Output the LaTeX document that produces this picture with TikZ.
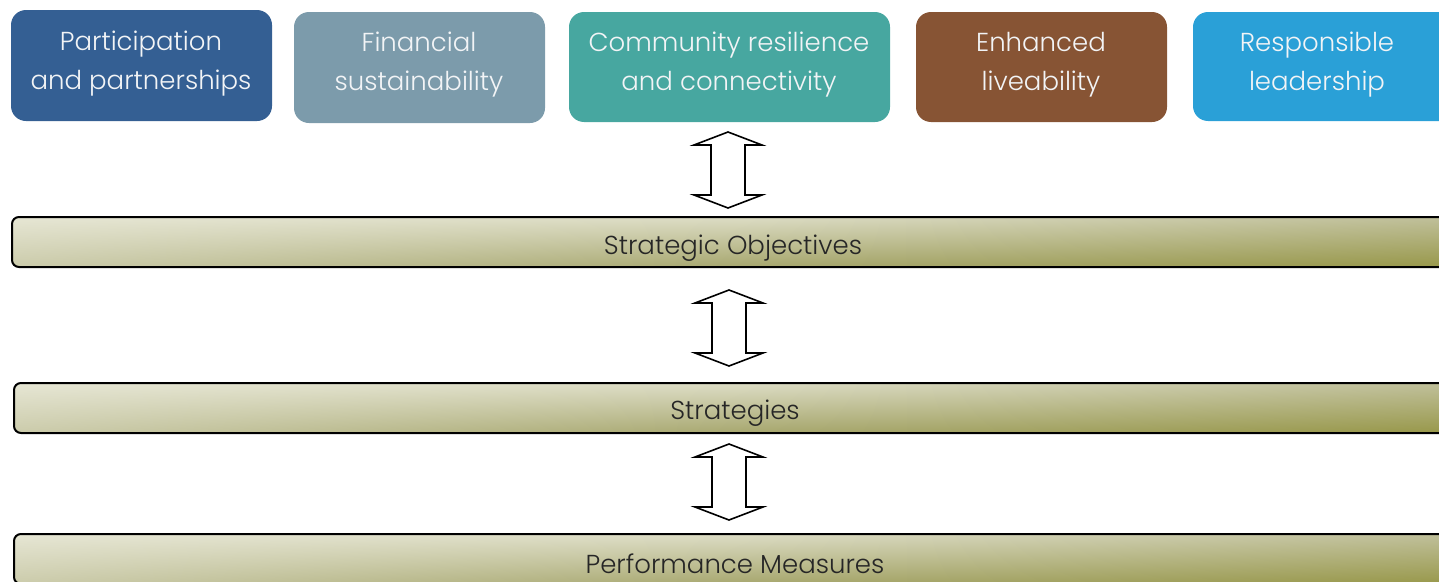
\documentclass[tikz,border=0pt]{standalone}
\usepackage{fontspec}
\setmainfont{Poppins}[UprightFont=* Light]
\definecolor{cA}{HTML}{345F93}
\definecolor{cB}{HTML}{7C9BAB}
\definecolor{cC}{HTML}{47A7A0}
\definecolor{cD}{HTML}{875434}
\definecolor{cE}{HTML}{2AA0D7}
\definecolor{boxtext}{HTML}{F2F4F6}
\definecolor{topL}{HTML}{E6E6D4}
\definecolor{topM}{HTML}{DCDCC4}
\definecolor{topR}{HTML}{BEBE98}
\definecolor{botL}{HTML}{CCCCAC}
\definecolor{botM}{HTML}{A8A870}
\definecolor{botR}{HTML}{98984A}
\definecolor{bartext}{HTML}{262626}
\tikzset{
  topbox/.style={text=boxtext, align=center,
    font=\fontsize{26}{39}\selectfont},
  boxfill/.style={rounded corners=15pt},
  barframe/.style={draw=black, line width=2pt, rounded corners=7pt},
  barlabel/.style={text=bartext, inner sep=0pt, font=\fontsize{26}{30}\selectfont},
  dblarrow/.style={draw=black, line width=1.6pt, fill=white, line join=miter}
}
\newcommand{\mydbl}[3]{% cx, ytop, ybot
  \draw[dblarrow] (#1,#2) -- (#1+34,#2+13) -- (#1+17,#2+13) -- (#1+17,#3-13)
    -- (#1+34,#3-13) -- (#1,#3) -- (#1-34,#3-13) -- (#1-17,#3-13)
    -- (#1-17,#2+13) -- (#1-34,#2+13) -- cycle;}
\newcommand{\mybar}[4]{% x1,y1,x2,y2
  \begin{scope}
    \clip[rounded corners=7pt] (#1,#2) rectangle (#3,#4);
    \foreach \i in {0,...,49} {
      \pgfmathsetmacro\p{100-100*\i/49}
      \fill[left color=topL!\p!botL, right color=topR!\p!botR, middle color=topM!\p!botM]
        (#1,#2+\i) rectangle (#3,#2+\i+1.3);
    }
  \end{scope}
  \draw[barframe] (#1,#2) rectangle (#3,#4);}
\begin{document}
\begin{tikzpicture}[x=1pt,y=-1pt]
\useasboundingbox (0,0) rectangle (1439,581);
\clip (0,0) rectangle (1439,581);
% top boxes
\fill[cA, boxfill] (11,10) rectangle (272,121);
\node[topbox] (pp) at (141,64) {Participation\\and partnerships};
\fill[cB, boxfill] (294,12) rectangle (545,123);
\node[topbox] (fs) at (419,65) {Financial\\sustainability};
\fill[cC, boxfill] (569,12) rectangle (890,122);
\node[topbox] (cr) at (729,65) {Community resilience\\and connectivity};
\fill[cD, boxfill] (916,12) rectangle (1167,122);
\node[topbox] (el) at (1041,65) {Enhanced\\liveability};
\fill[cE, boxfill] (1193,12) rectangle (1470,121);
\node[topbox] (rl) at (1317,65) {Responsible\\leadership};
% bars
\mybar{12}{217}{1480}{267}
\node[barlabel] (so) at (733,248) {Strategic Objectives};
\mybar{14}{383}{1480}{433}
\node[barlabel] (st) at (735,413) {Strategies};
\mybar{14}{534}{1480}{584}
\node[barlabel] (pm) at (735,564) {Performance Measures};
% double arrows
\mydbl{728}{132}{208}
\mydbl{729}{290}{366}
\mydbl{729}{444}{520}
\end{tikzpicture}
\end{document}
